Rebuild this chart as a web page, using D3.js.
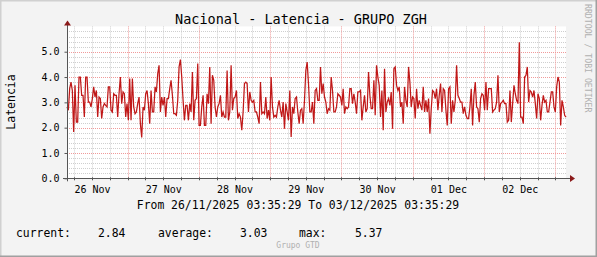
<!DOCTYPE html>
<html>
<head>
<meta charset="utf-8">
<script src="https://cdn.jsdelivr.net/npm/d3@7"></script>
<style>
  body { margin: 0; background: #f3f3f3; }
  svg { display: block; font-family: "DejaVu Sans Mono", monospace; }
</style>
</head>
<body>
<div id="chart"></div>
<script>
const title = "Nacional - Latencia - GRUPO ZGH"
const yLabel = "Latencia"
const startTime = new Date(Date.UTC(2025, 10, 26, 3, 35, 29))
const endTime = new Date(Date.UTC(2025, 11, 3, 3, 35, 29))
const yTicks = [0, 1, 2, 3, 4, 5]
const dayLabels = ["26 Nov", "27 Nov", "28 Nov", "29 Nov", "30 Nov", "01 Dec", "02 Dec"]
const rangeText = "From 26/11/2025 03:35:29 To 03/12/2025 03:35:29"
const legendNames = ["current:", "average:", "max:"]
const legendValues = ["2.84", "3.03", "5.37"]

// latency samples, evenly spaced over the 7 days
const latency = [
  2.82, 2.69, 3.54, 3.80, 3.47, 1.83, 3.67, 2.22, 2.22, 4.0, 4.0, 3.28, 3.28, 2.42, 4.0, 4.0,
  3.01, 3.01, 2.82, 3.15, 3.61, 3.21, 3.47, 2.42, 3.21, 3.15, 2.36, 2.82, 2.95, 2.88, 2.82, 3.61,
  3.61, 2.69, 2.62, 3.34, 3.28, 3.28, 2.42, 3.34, 4.0, 2.95, 3.41, 3.34, 2.42, 2.95, 2.29, 3.94,
  2.29, 3.94, 2.82, 2.55, 2.62, 2.95, 3.21, 2.16, 1.61, 2.82, 2.69, 3.34, 3.47, 2.95, 2.16, 3.47,
  2.62, 2.62, 3.61, 3.41, 4.13, 4.46, 2.62, 3.21, 2.88, 3.21, 2.42, 3.15, 3.15, 3.54, 3.87, 3.28,
  2.55, 2.55, 2.49, 3.08, 4.40, 4.69, 4.0, 3.08, 2.29, 2.88, 2.88, 2.29, 2.95,
  2.62, 4.20, 2.29, 3.08, 3.15, 4.53, 2.09, 2.09, 2.82, 3.28, 2.09, 2.09, 3.34, 2.95, 4.40, 2.16,
  4.07, 3.87, 2.82, 2.42, 2.82, 2.95, 3.28, 2.42, 2.62, 2.42, 2.42, 4.26, 2.29, 2.62, 4.46, 2.69,
  3.15, 3.21, 3.47, 2.36, 2.55, 2.42, 1.90, 2.62, 3.74, 3.80, 3.74, 2.62, 3.41, 3.08, 3.01, 3.08,
  2.62, 2.62, 2.42, 2.16, 3.80, 2.55, 2.62, 2.55, 3.21, 2.36, 2.69, 2.29, 4.0, 2.82, 2.42, 2.49,
  2.42, 2.82, 3.08, 2.69, 2.42, 3.01, 1.96, 2.95, 2.62, 2.29, 3.47, 1.63, 2.82, 2.55, 3.15, 3.21,
  2.62, 2.16, 2.69, 2.75, 2.16, 3.08, 4.26, 4.59, 3.74, 2.62, 2.62, 3.01, 2.16, 3.47, 3.54,
  3.08, 3.08, 4.40, 3.34, 3.74, 3.21, 3.01, 2.55, 2.75, 2.69, 4.0, 3.47, 2.62, 2.62, 2.82, 3.34,
  3.28, 3.21, 2.88, 3.54, 2.55, 2.82, 2.75, 2.82, 3.54, 3.54, 2.95, 3.34, 3.01, 2.55, 3.41, 3.41,
  3.47, 2.29, 2.82, 3.28, 2.62, 2.75, 4.20, 3.28, 2.75, 2.75, 3.87, 2.49, 4.46, 4.0, 3.67, 2.42,
  3.47, 1.90, 4.33, 2.62, 3.01, 3.15, 2.88, 3.41, 1.96, 4.33, 4.40, 3.67, 3.47, 3.61, 2.82, 3.01,
  2.16, 3.61, 3.08, 2.82, 4.40, 3.80, 2.82, 3.21, 3.15, 2.36, 3.54, 2.75, 3.08, 2.88, 2.69, 3.61,
  2.62, 3.08, 2.62, 3.15, 1.76, 2.75, 3.47, 3.41, 3.15, 3.54, 2.69, 3.28, 3.74, 2.62, 3.54,
  3.47, 2.69, 2.09, 3.54, 3.61, 2.16, 3.08, 2.62, 3.08, 4.46, 3.28, 3.15, 3.01, 3.01, 2.55, 2.82,
  2.49, 2.36, 2.36, 2.82, 3.54, 2.09, 3.28, 3.80, 2.82, 2.75, 2.22, 3.15, 3.34, 3.28, 2.69, 3.80,
  2.69, 3.54, 3.54, 3.54, 2.62, 2.69, 2.75, 3.01, 4.07, 2.62, 2.95, 3.01, 3.08, 2.95, 2.95, 2.22,
  2.29, 3.47, 2.22, 2.95, 3.67, 3.34, 3.08, 2.95, 5.37, 2.42, 2.42, 2.16, 4.0, 4.07, 4.40, 3.01,
  3.47, 3.41, 3.21, 3.47, 2.95, 2.36, 3.34, 3.15, 2.29, 2.88, 3.28, 3.01, 3.08, 2.62, 2.62, 3.01,
  3.41, 3.41, 2.82, 2.62, 3.61, 4.0, 3.80, 2.09, 3.08, 2.82, 2.49, 2.42
]

const W = 597, H = 257
const plot = { left: 67, right: 566, top: 26.4, bottom: 178.3 }

const svg = d3.select("#chart").append("svg")
              .attr("width", W)
              .attr("height", H)

// canvas with rrdtool-like bevel
svg.append("rect").attr("width", W).attr("height", H).attr("fill", "#f3f3f3")
svg.append("path").attr("d", `M0,${H} V0 H${W}`).attr("fill", "none")
   .attr("stroke", "#d0d0d0").attr("stroke-width", 3)
svg.append("path").attr("d", `M0,${H} H${W} V0`).attr("fill", "none")
   .attr("stroke", "#a0a0a0").attr("stroke-width", 3)

const step = (endTime - startTime) / (latency.length - 1)
const data = latency.map((v, i) => ({ t: new Date(+startTime + i * step), v: v }))

const x = d3.scaleUtc().domain([startTime, endTime]).range([plot.left, plot.right])
const y = d3.scaleLinear().domain([0, 6]).range([plot.bottom, plot.top])

svg.append("rect")
   .attr("x", plot.left).attr("y", plot.top)
   .attr("width", plot.right - plot.left).attr("height", plot.bottom - plot.top)
   .attr("fill", "#ffffff")

// minor grid
const minorY = d3.range(0.2, 6.01, 0.2).filter(v => Math.abs(v - Math.round(v)) > 0.01)
svg.append("g").selectAll("line")
   .data(minorY).join("line")
   .attr("x1", plot.left).attr("x2", plot.right)
   .attr("y1", d => Math.round(y(d)) + 0.5).attr("y2", d => Math.round(y(d)) + 0.5)
   .attr("stroke", "#cfcfcf").attr("stroke-dasharray", "1,1")

const sixHours = x.ticks(d3.utcHour.every(6)).filter(d => d.getUTCHours() !== 0)
svg.append("g").selectAll("line")
   .data(sixHours).join("line")
   .attr("x1", d => Math.round(x(d)) + 0.5).attr("x2", d => Math.round(x(d)) + 0.5)
   .attr("y1", plot.top).attr("y2", plot.bottom)
   .attr("stroke", "#cfcfcf").attr("stroke-dasharray", "1,1")

// major grid
svg.append("g").selectAll("line")
   .data(yTicks.filter(d => d > 0)).join("line")
   .attr("x1", plot.left).attr("x2", plot.right)
   .attr("y1", d => Math.round(y(d)) + 0.5).attr("y2", d => Math.round(y(d)) + 0.5)
   .attr("stroke", "#f09a9a").attr("stroke-dasharray", "1,1")

const midnights = x.ticks(d3.utcDay.every(1))
svg.append("g").selectAll("line")
   .data(midnights).join("line")
   .attr("x1", d => Math.round(x(d)) + 0.5).attr("x2", d => Math.round(x(d)) + 0.5)
   .attr("y1", plot.top).attr("y2", plot.bottom)
   .attr("stroke", "#f09a9a").attr("stroke-dasharray", "1,1")

// the series
const line = d3.line()
               .x(d => x(d.t))
               .y(d => y(d.v))

svg.append("path")
   .datum(data)
   .attr("d", line)
   .attr("fill", "none")
   .attr("stroke", "#c01818")
   .attr("stroke-width", 1.25)
   .attr("stroke-linejoin", "miter")

// axes
const yAxis = d3.axisLeft(y).tickValues(yTicks).tickFormat(d3.format(".1f")).tickSize(3).tickPadding(5)
const yG = svg.append("g").attr("transform", `translate(${plot.left + 0.5},0)`).call(yAxis)
yG.select(".domain").remove()
yG.selectAll("line").attr("stroke", "#555")
yG.selectAll("text").attr("font-size", 10).attr("fill", "#000")
  .attr("font-family", "DejaVu Sans Mono")

const noons = dayLabels.map((d, i) => d3.utcHour.offset(d3.utcDay.floor(startTime), 12 + 24 * i))
const xAxis = d3.axisBottom(x).tickValues(noons).tickSize(0).tickPadding(8)
                .tickFormat((d, i) => dayLabels[i])
const xG = svg.append("g").attr("transform", `translate(0,${plot.bottom})`).call(xAxis)
xG.select(".domain").remove()
xG.selectAll("text").attr("font-size", 10).attr("fill", "#000")
  .attr("font-family", "DejaVu Sans Mono")

svg.append("g").selectAll("line")
   .data(sixHours.concat(midnights)).join("line")
   .attr("x1", d => Math.round(x(d)) + 0.5).attr("x2", d => Math.round(x(d)) + 0.5)
   .attr("y1", plot.bottom - 1).attr("y2", plot.bottom + 2)
   .attr("stroke", "#555")

svg.append("line")
   .attr("x1", plot.left + 0.5).attr("x2", plot.left + 0.5)
   .attr("y1", plot.bottom + 3).attr("y2", plot.top - 2)
   .attr("stroke", "#555")
svg.append("line")
   .attr("x1", plot.left - 4).attr("x2", plot.right + 4)
   .attr("y1", Math.round(plot.bottom) + 0.5).attr("y2", Math.round(plot.bottom) + 0.5)
   .attr("stroke", "#555")

svg.append("path")
   .attr("d", `M${plot.left + 0.5},${plot.top - 6} l3.5,5 h-7 z`)
   .attr("fill", "#8b1a1a")
svg.append("path")
   .attr("d", `M${plot.right + 9},${Math.round(plot.bottom) + 0.5} l-5,-3.5 v7 z`)
   .attr("fill", "#8b1a1a")

// texts
svg.append("text")
   .attr("x", 301).attr("y", 24)
   .attr("text-anchor", "middle").attr("font-size", 13.5)
   .text(title)

svg.append("text")
   .attr("transform", "translate(15,102) rotate(-90)")
   .attr("text-anchor", "middle").attr("font-size", 11.5)
   .text(yLabel)

svg.append("text")
   .attr("x", 298).attr("y", 208.5)
   .attr("text-anchor", "middle").attr("font-size", 11.4)
   .text(rangeText)

const legendX = [[16, 98], [158, 240], [299, 355]]
legendNames.forEach((name, i) => {
  svg.append("text").attr("x", legendX[i][0]).attr("y", 236.5).attr("font-size", 11.4).text(name)
  svg.append("text").attr("x", legendX[i][1]).attr("y", 236.5).attr("font-size", 11.4).text(legendValues[i])
})

svg.append("text")
   .attr("x", 298).attr("y", 248)
   .attr("text-anchor", "middle").attr("font-size", 8).attr("fill", "#b0b0b0")
   .text("Grupo GTD")

svg.append("text")
   .attr("transform", "translate(585,4) rotate(90)")
   .attr("font-size", 8.2).attr("fill", "#b0b0b0")
   .text("RRDTOOL / TOBI OETIKER")
</script>
</body>
</html>
